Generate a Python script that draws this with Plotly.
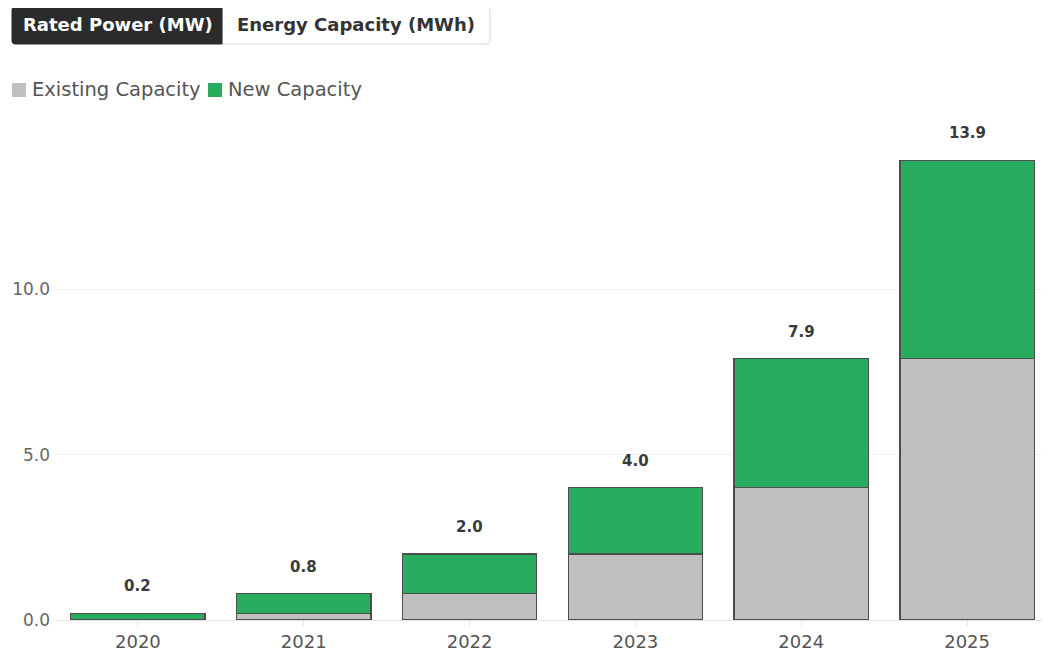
import plotly.graph_objects as go

years = ["2020", "2021", "2022", "2023", "2024", "2025"]
existing = [0.0, 0.2, 0.8, 2.0, 4.0, 7.9]
new = [0.2, 0.6, 1.2, 2.0, 3.9, 6.0]
totals = [0.2, 0.8, 2.0, 4.0, 7.9, 13.9]
total_labels = ["0.2", "0.8", "2.0", "4.0", "7.9", "13.9"]
y_ticks = [0, 5, 10]
y_tick_labels = ["0.0", "5.0", "10.0"]
series_names = ["Existing Capacity", "New Capacity"]

FONT = "DejaVu Sans, sans-serif"
GRAY = "#c0c0c0"
GREEN = "#28ad60"
EDGE = "#4d4d4d"

OFF = 8  # page body margin
W, H = 1050 - OFF, 653 - OFF
L, T, PW, PH = 55 - OFF, 110 - OFF, 995, 510

xpos = list(range(len(years)))


def px(x):
    return (x - OFF - L) / PW


def py(y):
    return (T + PH - (y - OFF)) / PH


fig = go.Figure()
fig.add_trace(go.Bar(x=xpos, y=existing, name=series_names[0], showlegend=False,
                     marker=dict(color=GRAY, line=dict(color=EDGE, width=1.3))))
fig.add_trace(go.Bar(x=xpos, y=new, name=series_names[1], showlegend=False,
                     marker=dict(color=GREEN, line=dict(color=EDGE, width=1.3))))

for xp, t, lab in zip(xpos, totals, total_labels):
    fig.add_annotation(x=xp, y=t, text="<b>" + lab + "</b>", showarrow=False,
                       xanchor="center", yanchor="middle", yshift=27,
                       font=dict(family=FONT, size=15, color="#3a3a3a"))


def rounded_rect(x0, y0, x1, y1, rl, rr):
    # path in paper coordinates; rl/rr are corner radii (pixels) for left/right side
    def X(v):
        return px(v)

    def Y(v):
        return py(v)
    p = f"M {X(x0 + rl)} {Y(y0)} L {X(x1 - rr)} {Y(y0)} "
    p += f"Q {X(x1)} {Y(y0)} {X(x1)} {Y(y0 + rr)} " if rr else f"L {X(x1)} {Y(y0)} "
    p += f"L {X(x1)} {Y(y1 - rr)} "
    p += f"Q {X(x1)} {Y(y1)} {X(x1 - rr)} {Y(y1)} " if rr else f"L {X(x1)} {Y(y1)} "
    p += f"L {X(x0 + rl)} {Y(y1)} "
    p += f"Q {X(x0)} {Y(y1)} {X(x0)} {Y(y1 - rl)} " if rl else f"L {X(x0)} {Y(y1)} "
    p += f"L {X(x0)} {Y(y0 + rl)} "
    p += f"Q {X(x0)} {Y(y0)} {X(x0 + rl)} {Y(y0)} Z" if rl else f"L {X(x0)} {Y(y0)} Z"
    return p


# toggle buttons
fig.add_shape(type="path", xref="paper", yref="paper",
              path=rounded_rect(222, 7, 490, 44, 0, 3),
              fillcolor="white", line=dict(color="#d9d9d9", width=1))
fig.add_shape(type="path", xref="paper", yref="paper",
              path=rounded_rect(12, 7, 222, 44, 3, 0),
              fillcolor="#2b2b2b", line=dict(color="#2b2b2b", width=1))
fig.add_annotation(xref="paper", yref="paper", x=px(118), y=py(25),
                   xanchor="center", yanchor="middle",
                   text="<b>Rated Power (MW)</b>", showarrow=False,
                   font=dict(family=FONT, size=18, color="white"))
fig.add_annotation(xref="paper", yref="paper", x=px(356), y=py(25),
                   xanchor="center", yanchor="middle",
                   text="<b>Energy Capacity (MWh)</b>", showarrow=False,
                   font=dict(family=FONT, size=18, color="#333333"))

# legend (swatch + label)
legend_items = [(series_names[0], GRAY, 12), (series_names[1], GREEN, 208)]
for name, col, x0 in legend_items:
    fig.add_shape(type="rect", xref="paper", yref="paper",
                  x0=px(x0), x1=px(x0 + 14), y0=py(97), y1=py(83),
                  fillcolor=col, line=dict(width=0))
    fig.add_annotation(xref="paper", yref="paper", x=px(x0 + 18), y=py(90),
                       xanchor="left", yanchor="middle", text=name, showarrow=False,
                       font=dict(family=FONT, size=19.5, color="#555555"))

fig.update_layout(
    barmode="stack",
    bargap=0.19,
    width=W, height=H,
    margin=dict(l=L, r=W - L - PW, t=T, b=H - T - PH, autoexpand=False),
    plot_bgcolor="white", paper_bgcolor="white",
    font=dict(family=FONT, size=17, color="#555555"),
    showlegend=False,
    xaxis=dict(range=[-0.5, 5.5], tickvals=xpos, ticktext=years,
               showline=False, showgrid=False, zeroline=False,
               ticks="outside", ticklen=5, tickcolor="#e6e6e6",
               tickfont=dict(family=FONT, size=18, color="#555555")),
    yaxis=dict(range=[0, 15.42], tickvals=y_ticks, ticktext=y_tick_labels,
               showgrid=True, gridcolor="#f0f0f0", zeroline=True,
               zerolinecolor="#e3e3e3", zerolinewidth=1, ticklabelstandoff=4,
               tickfont=dict(family=FONT, size=17, color="#666666")),
)

fig.write_html("out.html")
